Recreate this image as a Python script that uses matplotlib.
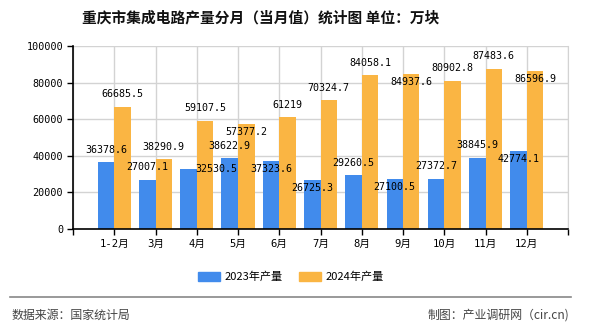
import matplotlib
matplotlib.use("Agg")
import matplotlib.pyplot as plt
from matplotlib.lines import Line2D
from matplotlib.patches import Patch

categories = ["1-2月", "3月", "4月", "5月", "6月", "7月", "8月", "9月", "10月", "11月", "12月"]
y2023 = [36378.6, 27007.1, 32530.5, 38622.9, 37323.6, 26725.3, 29260.5, 27100.5, 27372.7, 38845.9, 42774.1]
y2024 = [66685.5, 38290.9, 59107.5, 57377.2, 61219, 70324.7, 84058.1, 84937.6, 80902.8, 87483.6, 86596.9]
series_names = ["2023年产量", "2024年产量"]
yticks = [0, 20000, 40000, 60000, 80000, 100000]

# label placement styles (pixel offsets from bar top)
dx_2023 = [0, 0, 28, 0, 0, 0, 0, 0, 0, 0, 0]
dy_2023 = [12.5, 12.5, 0, 12.5, -8, -8, 12.5, -8, 12.5, 12.5, -8]
dx_2024 = [0] * 11
dy_2024 = [13, 12, 13, -8, 12, 12, 12, -8, 13, 13, -8]

BLUE = "#418BEC"
ORANGE = "#FAB543"
CJK = "Noto Sans CJK SC"
MONO = ["DejaVu Sans Mono", CJK]

plt.rcParams["font.family"] = [CJK, "DejaVu Sans"]

fig = plt.figure(figsize=(5.9, 3.3), dpi=100)
ax = fig.add_axes([73 / 590, 1 - 229 / 330, 495 / 590, 183 / 330])

x = list(range(1, len(categories) + 1))
w = 0.4
xb = [i - w / 2 for i in x]
xo = [i + w / 2 for i in x]
ax.bar(xb, y2023, width=w, color=BLUE, zorder=2, label=series_names[0])
ax.bar(xo, y2024, width=w, color=ORANGE, zorder=2, label=series_names[1])

ax.set_xlim(0, 12)
ax.set_ylim(0, 100000)
ax.set_yticks(yticks)
ax.set_yticklabels([str(v) for v in yticks], family=MONO, fontsize=7.3)
ax.set_xticks(list(range(0, 13)))
ax.set_xticklabels([""] + categories + [""], family=MONO, fontsize=7.6)
ax.tick_params(axis="both", length=4, width=1, color="black", pad=3)

ax.grid(True, color="#d3d3d3", linewidth=1, zorder=0)
ax.set_axisbelow(True)
ax.spines["top"].set_visible(False)
ax.spines["right"].set_color("#d3d3d3")
ax.spines["left"].set_color("black")
ax.spines["bottom"].set_color("black")
ax.spines["left"].set_linewidth(1.2)
ax.spines["bottom"].set_linewidth(1.2)

px = 0.72
for xi, v, dx, dy in zip(xb, y2023, dx_2023, dy_2023):
    ax.annotate(f"{v:g}", (xi, v), xytext=(dx * px, dy * px), textcoords="offset points",
                ha="center", va="center", family=MONO, fontsize=7.2, color="black", zorder=4)
for xi, v, dx, dy in zip(xo, y2024, dx_2024, dy_2024):
    ax.annotate(f"{v:g}", (xi, v), xytext=(dx * px, dy * px), textcoords="offset points",
                ha="center", va="center", family=MONO, fontsize=7.2, color="black", zorder=4)

fig.text(261 / 590, 1 - 17 / 330, "重庆市集成电路产量分月（当月值）统计图 单位：万块",
         ha="center", va="center", fontsize=10.6, fontweight="bold", color="#111111")

handles = [Patch(color=BLUE), Patch(color=ORANGE)]
fig.legend(handles, series_names, loc="center", bbox_to_anchor=(291 / 590, 1 - 277 / 330),
           ncol=2, frameon=False, fontsize=8, handlelength=2.0, handleheight=0.8,
           handletextpad=0.45, columnspacing=1.4)

fig.add_artist(Line2D([10 / 590, 571 / 590], [1 - 297 / 330, 1 - 297 / 330],
                      transform=fig.transFigure, color="#888888", linewidth=1.2))
fig.text(12 / 590, 1 - 315 / 330, "数据来源：国家统计局", ha="left", va="center",
         fontsize=8.6, color="#444444")
fig.text(569 / 590, 1 - 315 / 330, "制图：产业调研网（cir.cn)", ha="right", va="center",
         fontsize=8.6, color="#444444")

fig.savefig("out.png", dpi=100)
